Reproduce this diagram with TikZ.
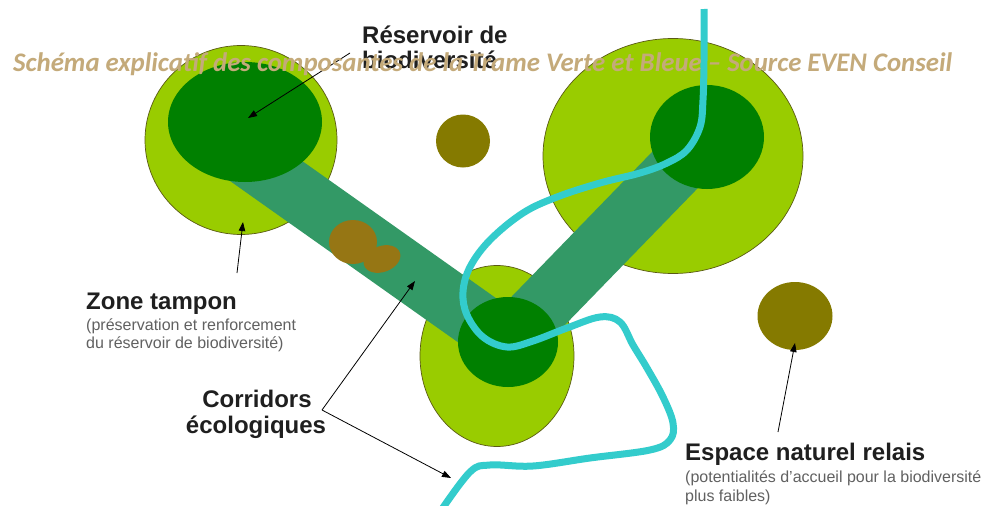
\documentclass[tikz,border=0pt]{standalone}
\usepackage{fontspec}
\setmainfont{Liberation Sans}
\newfontfamily\titlefont{Carlito}
\usetikzlibrary{arrows.meta,shapes.geometric}
\definecolor{lightg}{RGB}{153,204,0}
\definecolor{darkg}{RGB}{0,128,0}
\definecolor{corr}{RGB}{51,153,102}
\definecolor{olivec}{RGB}{133,122,0}
\definecolor{blobc}{RGB}{150,118,20}
\definecolor{riverc}{RGB}{51,204,204}
\definecolor{titlec}{RGB}{196,170,122}
\definecolor{edgec}{RGB}{90,90,20}
\begin{document}
\begin{tikzpicture}[x=1pt,y=-1pt,
 buffer/.style={ellipse,fill=lightg,draw=edgec,line width=0.7pt,inner sep=0pt},
 core/.style={ellipse,fill=darkg,inner sep=0pt},
 relais/.style={ellipse,fill=olivec,inner sep=0pt},
 corridor/.style={draw=corr,line width=58pt},
 rivercourse/.style={draw=riverc,line width=7pt,line join=round},
 pointer/.style={-{Triangle[length=9pt,width=6.5pt]},line width=0.8pt,draw=black},
 lbl/.style={font=\fontsize{24}{26}\selectfont\bfseries,text=black!88,inner sep=0pt},
 sublbl/.style={font=\fontsize{16}{18}\selectfont,text=black!62,inner sep=0pt},
 titlelbl/.style={font=\titlefont\fontsize{26.8}{30}\selectfont\bfseries\itshape,text=titlec,inner sep=0pt}]
\useasboundingbox (0,0) rectangle (989,506);
\fill[white] (0,0) rectangle (989,506);

% buffer zones
\node[buffer,minimum width=192pt,minimum height=189pt] (lbuf) at (241,140) {};
\node[buffer,minimum width=260pt,minimum height=235pt] (rbuf) at (673,156) {};
\node[buffer,minimum width=154pt,minimum height=181pt] (bbuf) at (497,356) {};

% corridors
\draw[corridor] (235,149) -- (505,340);
\draw[corridor] (508,342) -- (707,137);

% blob on corridor
\fill[blobc] (353,242) ellipse [x radius=24pt, y radius=22pt];
\fill[blobc,rotate around={20:(382,259)}] (382,259) ellipse [x radius=19pt, y radius=13pt];

% cores
\node[core,minimum width=154pt,minimum height=120pt] (lcore) at (245,122) {};
\node[core,minimum width=114pt,minimum height=104pt] (rcore) at (707,137) {};
\node[core,minimum width=100pt,minimum height=90pt] (bcore) at (508,342) {};

% relay spaces
\node[relais,minimum width=54pt,minimum height=53pt] (orel) at (463,141) {};
\node[relais,minimum width=75pt,minimum height=68pt] (erel) at (795,316) {};

% river
\draw[rivercourse] plot[smooth,tension=0.6] coordinates {
 (704,9) (704,60) (703,100) (700,127) (687,150) (667,163) (640,173) (600,183)
 (557,197) (523,213) (490,240) (470,267) (463,292) (467,315) (483,337) (507,347)
 (533,341) (567,328) (600,317) (620,322) (633,345) (647,368) (663,397) (673,423)
 (670,440) (650,450) (590,458) (533,466) (490,465) (470,472) (440,512)};

% labels
\node[lbl,anchor=base west] (res1) at (362,43) {Réservoir de};
\node[lbl,anchor=base west] (res2) at (362,68) {biodiversité};
\node[lbl,anchor=base west] (zone) at (86,309) {Zone tampon};
\node[sublbl,anchor=base west] (zone1) at (86,330) {(préservation et renforcement};
\node[sublbl,anchor=base west] (zone2) at (86,348) {du réservoir de biodiversité)};
\node[lbl,anchor=base] (cor1) at (257,407) {Corridors};
\node[lbl,anchor=base] (cor2) at (256,433) {écologiques};
\node[lbl,anchor=base west] (esp) at (685,460) {Espace naturel relais};
\node[sublbl,anchor=base west] (esp1) at (685,482) {(potentialités d’accueil pour la biodiversité};
\node[sublbl,anchor=base west] (esp2) at (685,501) {plus faibles)};

% pointers
\coordinate (resA) at (350,53);
\coordinate (resT) at (248,118);
\coordinate (zA) at (237,273);
\coordinate (zT) at (243,222);
\coordinate (cV) at (322,410);
\coordinate (cT1) at (415,281);
\coordinate (cT2) at (451,478);
\coordinate (eA) at (778,432);
\coordinate (eT) at (795,343);
\draw[pointer] (resA) -- (resT);
\draw[pointer] (zA) -- (zT);
\draw[pointer] (cV) -- (cT1);
\draw[pointer] (cV) -- (cT2);
\draw[pointer] (eA) -- (eT);

% title
\node[titlelbl,anchor=base west] (title) at (13,71) {Schéma explicatif des composantes de la Trame Verte et Bleue – Source EVEN Conseil};
\end{tikzpicture}
\end{document}
